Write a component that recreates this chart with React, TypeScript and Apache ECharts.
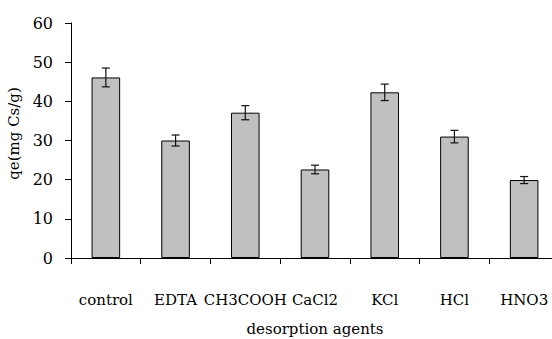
import React, { useEffect, useRef } from "react";
import * as echarts from "echarts";

const categories = ["control", "EDTA", "CH3COOH", "CaCl2", "KCl", "HCl", "HNO3"];
const values = [46.1, 30.0, 37.1, 22.6, 42.3, 31.0, 19.9];
const errors = [2.4, 1.4, 1.8, 1.1, 2.1, 1.6, 0.9];
const yTicks = { min: 0, max: 60, interval: 10 };
const xTitle = "desorption agents";
const yTitle = "qe(mg Cs/g)";

const FONT = "DejaVu Serif";

export default function App() {
  const ref = useRef<HTMLDivElement>(null);
  useEffect(() => {
    if (!ref.current) return;
    const chart = echarts.init(ref.current, undefined, { renderer: "svg" });
    const errData = values.map((v, i) => [i, v - errors[i], v + errors[i]]);
    chart.setOption({
      animation: false,
      backgroundColor: "#ffffff",
      grid: { left: 71, right: 1, top: 23, bottom: 81, containLabel: false, outerBoundsMode: "none" },
      xAxis: {
        type: "category",
        data: categories,
        boundaryGap: true,
        name: xTitle,
        nameLocation: "middle",
        nameGap: 63,
        nameTextStyle: { fontFamily: FONT, fontSize: 15, color: "#000" },
        axisLine: { show: true, lineStyle: { color: "#000", width: 1 } },
        axisTick: { show: true, length: 6, lineStyle: { color: "#000" } },
        axisLabel: { interval: 0, margin: 34, fontFamily: FONT, fontSize: 15, color: "#000", hideOverlap: false },
        splitLine: { show: false },
      },
      yAxis: {
        type: "value",
        min: yTicks.min,
        max: yTicks.max,
        interval: yTicks.interval,
        name: yTitle,
        nameLocation: "middle",
        nameRotate: 90,
        nameGap: 46,
        nameTextStyle: { fontFamily: FONT, fontSize: 15, color: "#000", padding: [0, 0, 0, 14] },
        axisLine: { show: true, lineStyle: { color: "#000", width: 1 } },
        axisTick: { show: true, length: 6, lineStyle: { color: "#000" } },
        axisLabel: { margin: 18, fontFamily: FONT, fontSize: 16, color: "#000" },
        splitLine: { show: false },
      },
      series: [
        {
          type: "bar",
          data: values,
          barWidth: "41%",
          itemStyle: { color: "#c0c0c0", borderColor: "#000", borderWidth: 1 },
        },
        {
          type: "custom",
          data: errData,
          z: 10,
          renderItem: (params: any, api: any) => {
            const x = api.value(0);
            const lo = api.coord([x, api.value(1)]);
            const hi = api.coord([x, api.value(2)]);
            const cap = 4;
            const style = { stroke: "#111", lineWidth: 1.2 };
            return {
              type: "group",
              children: [
                { type: "line", shape: { x1: hi[0], y1: hi[1], x2: lo[0], y2: lo[1] }, style },
                { type: "line", shape: { x1: hi[0] - cap, y1: hi[1], x2: hi[0] + cap, y2: hi[1] }, style },
                { type: "line", shape: { x1: lo[0] - cap, y1: lo[1], x2: lo[0] + cap, y2: lo[1] }, style },
              ],
            };
          },
        },
      ],
    });
    return () => chart.dispose();
  }, []);
  return (
    <div
      ref={ref}
      style={{ position: "fixed", left: 0, top: 0, width: 560, height: 339, background: "#fff" }}
    />
  );
}
